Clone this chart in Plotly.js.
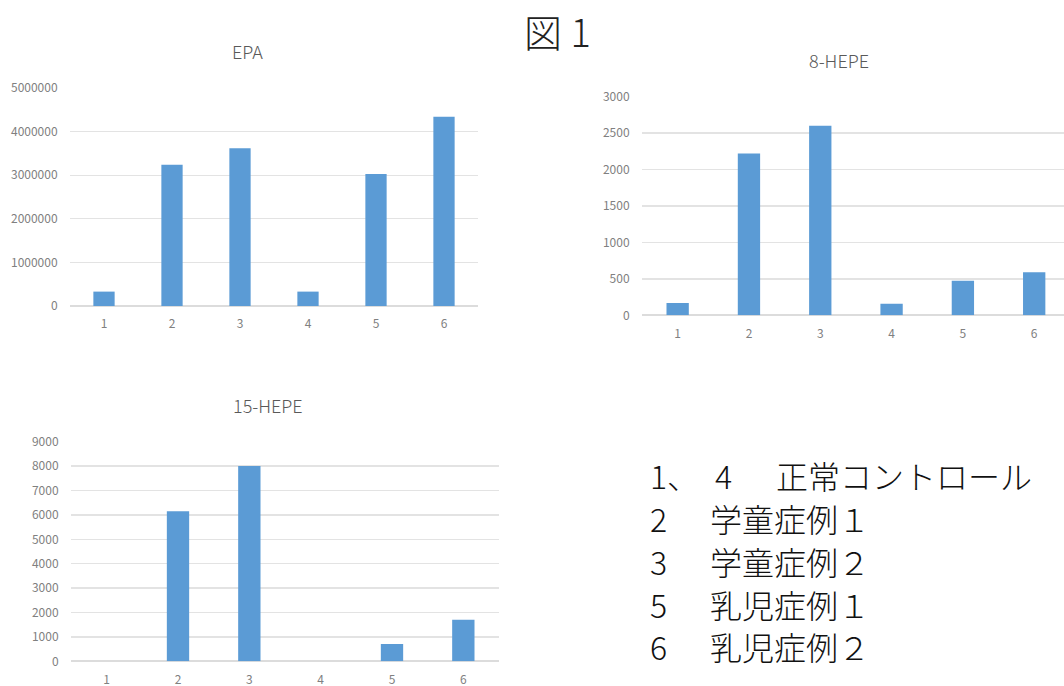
<!DOCTYPE html>
<html>
<head>
<meta charset="utf-8">
<script src="https://cdn.plot.ly/plotly-3.0.1.min.js"></script>
<style>html,body{margin:0;padding:0;background:#fff;}#chart{width:1064px;height:686px;}</style>
</head>
<body>
<div id="chart"></div>
<script>
const categories = ['1', '2', '3', '4', '5', '6'];
const epaValues = [330000, 3240000, 3620000, 330000, 3030000, 4340000];
const hepe8Values = [170, 2220, 2600, 160, 475, 590];
const hepe15Values = [0, 6150, 8000, 0, 710, 1705];
const chartTitles = ['EPA', '8-HEPE', '15-HEPE'];
const figureTitle = '図 1';
const legendNumbers = ['1、\u20024', '2', '3', '5', '6'];
const legendLabels = ['正常コントロール', '学童症例１', '学童症例２', '乳児症例１', '乳児症例２'];

const W = 1064, H = 686;
const px = v => v / W;
const py = v => 1 - v / H;
const barColor = '#5B9BD5';
const tickFont = {family: 'Noto Sans CJK JP, sans-serif', size: 12, color: '#808080'};
const titleFont = {family: 'Noto Sans CJK JP, sans-serif', size: 18, color: '#595959', weight: 300};

function bar(y, xa, ya) {
  return {type: 'bar', x: categories, y: y, xaxis: xa, yaxis: ya,
    marker: {color: barColor}, hoverinfo: 'x+y'};
}
const data = [bar(epaValues, 'x', 'y'), bar(hepe8Values, 'x2', 'y2'), bar(hepe15Values, 'x3', 'y3')];

function xax(d0, d1, rng) {
  return {domain: [px(d0), px(d1)], type: 'category', range: rng, showgrid: false,
    showline: false, zeroline: false, ticks: 'outside', ticklen: 7, tickcolor: 'rgba(0,0,0,0)',
    tickfont: tickFont, fixedrange: true};
}
function yax(top, bottom, max, dtick, anchor) {
  return {domain: [py(bottom), py(top)], range: [0, max], dtick: dtick, tick0: 0,
    tickformat: 'd', showgrid: true, gridcolor: '#E3E3E3', gridwidth: 1.3,
    zeroline: true, zerolinecolor: '#DCDCDC', zerolinewidth: 1.6, showline: false,
    ticks: 'outside', ticklen: 9, tickcolor: 'rgba(0,0,0,0)', tickfont: tickFont,
    anchor: anchor, fixedrange: true};
}

const annotations = [];
function ann(text, x, y, font, xanchor) {
  annotations.push({text: text, x: x, y: y, xref: 'paper', yref: 'paper',
    xanchor: xanchor || 'center', yanchor: 'middle', showarrow: false, font: font});
}
ann(chartTitles[0], px(247), py(51), titleFont);
ann(chartTitles[1], px(839), py(60), titleFont);
ann(chartTitles[2], px(268), py(405), titleFont);
ann(figureTitle, px(557), py(31), {family: 'Noto Sans CJK JP, sans-serif', size: 38, color: '#222', weight: 300});

const legFont = {family: 'Noto Sans CJK JP, sans-serif', size: 32, color: '#111', weight: 300};
const legY = [475, 518, 561, 604, 646];
const labelX = [774, 708, 708, 708, 708];
for (let i = 0; i < legendNumbers.length; i++) {
  ann(legendNumbers[i], px(648), py(legY[i]), legFont, 'left');
  ann(legendLabels[i], px(labelX[i]), py(legY[i]), legFont, 'left');
}

const layout = {
  width: W, height: H,
  margin: {l: 0, r: 0, t: 0, b: 0},
  paper_bgcolor: '#fff', plot_bgcolor: '#fff',
  showlegend: false, bargap: 0.687,
  font: {family: 'Noto Sans CJK JP, sans-serif'},
  xaxis: xax(70, 478, [-0.5, 5.5]),
  yaxis: yax(88, 306, 5000000, 1000000, 'x'),
  xaxis2: Object.assign(xax(642, 1064, [-0.5, 5.418]), {anchor: 'y2'}),
  yaxis2: yax(96.7, 315.3, 3000, 500, 'x2'),
  xaxis3: Object.assign(xax(71, 499, [-0.5, 5.5]), {anchor: 'y3'}),
  yaxis3: yax(441.7, 661.3, 9000, 1000, 'x3'),
  annotations: annotations
};
layout.xaxis.anchor = 'y';

Plotly.newPlot('chart', data, layout, {displayModeBar: false, staticPlot: true});
</script>
</body>
</html>
